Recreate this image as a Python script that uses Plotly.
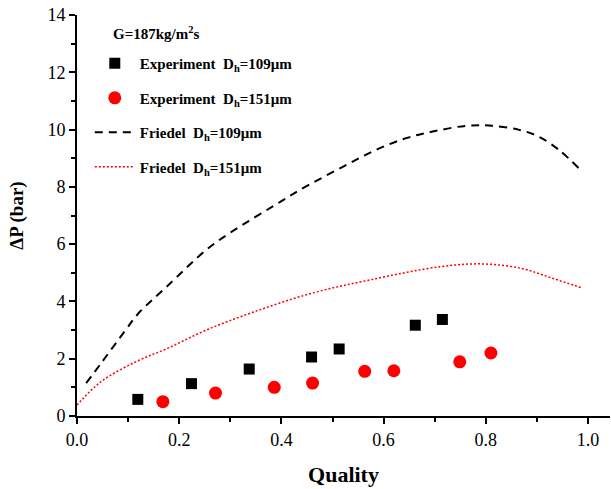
import plotly.graph_objects as go

# Experiment Dh=109um
exp109_x = [0.119, 0.224, 0.337, 0.459, 0.513, 0.662, 0.715]
exp109_y = [0.58, 1.13, 1.64, 2.06, 2.34, 3.17, 3.37]
# Experiment Dh=151um
exp151_x = [0.168, 0.271, 0.386, 0.461, 0.563, 0.620, 0.749, 0.810]
exp151_y = [0.50, 0.80, 1.00, 1.15, 1.56, 1.58, 1.89, 2.20]
# Friedel Dh=109um
fr109_x = [0.018, 0.047, 0.095, 0.12, 0.177, 0.253, 0.30, 0.40, 0.436, 0.52, 0.585, 0.644, 0.696, 0.761, 0.807, 0.865, 0.904, 0.943, 0.982]
fr109_y = [1.15, 1.84, 3.00, 3.58, 4.54, 5.80, 6.40, 7.50, 7.89, 8.70, 9.29, 9.70, 9.93, 10.13, 10.14, 9.99, 9.75, 9.29, 8.65]
# Friedel Dh=151um
fr151_x = [0.0, 0.047, 0.116, 0.177, 0.253, 0.344, 0.458, 0.573, 0.71, 0.793, 0.87, 0.93, 0.987]
fr151_y = [0.38, 1.20, 1.90, 2.36, 3.00, 3.62, 4.28, 4.75, 5.21, 5.31, 5.15, 4.81, 4.48]

x_ticks = [0.0, 0.2, 0.4, 0.6, 0.8, 1.0]
x_tick_labels = ["0.0", "0.2", "0.4", "0.6", "0.8", "1.0"]
y_ticks = [0, 2, 4, 6, 8, 10, 12, 14]
y_tick_labels = ["0", "2", "4", "6", "8", "10", "12", "14"]

SERIF = "Liberation Serif, Times New Roman, serif"

fig = go.Figure()
fig.add_trace(go.Scatter(x=exp109_x, y=exp109_y, mode="markers",
                         name="Experiment  D<sub>h</sub>=109μm",
                         marker=dict(symbol="square", size=11, color="black"),
                         legendgroup="a"))
fig.add_trace(go.Scatter(x=exp151_x, y=exp151_y, mode="markers",
                         name="Experiment  D<sub>h</sub>=151μm",
                         marker=dict(symbol="circle", size=13, color="#ff0000"),
                         legendgroup="b"))
fig.add_trace(go.Scatter(x=fr109_x, y=fr109_y, mode="lines", line_shape="spline",
                         name="Friedel  D<sub>h</sub>=109μm",
                         line=dict(color="black", width=2, dash="8px,6px"),
                         legendgroup="c"))
fig.add_trace(go.Scatter(x=fr151_x, y=fr151_y, mode="lines", line_shape="spline",
                         name="Friedel  D<sub>h</sub>=151μm",
                         line=dict(color="#ff0000", width=1.5, dash="2px,2px"),
                         legendgroup="d"))

axis_common = dict(
    showline=True, linecolor="black", linewidth=2, mirror=False,
    ticks="outside", ticklen=6, tickwidth=1.5, tickcolor="black",
    showgrid=False, zeroline=False, automargin=False, ticklabeloverflow="allow",
    tickfont=dict(family=SERIF, size=18, color="black"),
)

fig.update_layout(
    width=611, height=489,
    margin=dict(l=77, r=1, t=15, b=73),
    paper_bgcolor="white", plot_bgcolor="white",
    font=dict(family=SERIF, color="black"),
    xaxis=dict(range=[0, 1.043], tickvals=x_ticks, ticktext=x_tick_labels,
               minor=dict(ticks="outside", ticklen=4, tickwidth=1.5, tickcolor="black", dtick=0.1, tick0=0),
               title=dict(text="<b>Quality</b>", font=dict(family=SERIF, size=22), standoff=18),
               **axis_common),
    yaxis=dict(range=[0, 14], tickvals=y_ticks, ticktext=y_tick_labels,
               minor=dict(ticks="outside", ticklen=4, tickwidth=1.5, tickcolor="black", dtick=1, tick0=0),
               title=dict(text="<b>ΔP (bar)</b>", font=dict(family=SERIF, size=19), standoff=19),
               **axis_common),
    legend=dict(x=0.024, y=0.92, xanchor="left", yanchor="top",
                bgcolor="rgba(0,0,0,0)",
                font=dict(family=SERIF, size=15, color="black", weight="bold"),
                traceorder="grouped", tracegroupgap=12, itemwidth=40),
    annotations=[dict(text="<b>G=187kg/m<sup>2</sup>s</b>", xref="paper", yref="paper",
                      x=(111 - 77) / 534, y=(401 - (33 - 15)) / 401, xanchor="left", yanchor="middle",
                      showarrow=False, font=dict(family=SERIF, size=15, color="black"))],
)

fig.write_html("out.html", config={"displayModeBar": False},
               post_script="document.body.style.margin='0px';")
